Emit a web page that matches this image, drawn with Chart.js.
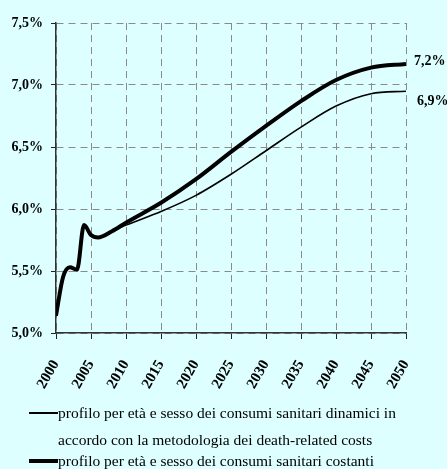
<!DOCTYPE html>
<html>
<head>
<meta charset="utf-8">
<script src="https://cdn.jsdelivr.net/npm/chart.js@4.4.0/dist/chart.umd.min.js"></script>
<style>
  body { margin: 0; background: #ddffff; font-family: "Liberation Serif", "Times New Roman", serif; }
  #wrap { position: relative; width: 447px; height: 469px; overflow: hidden; }
  canvas { position: absolute; left: 0; top: 0; }
  .key { position: absolute; left: 29px; width: 29px; background: #000; }
  .txt { position: absolute; left: 58px; font-size: 15.5px; line-height: 27px; color: #000; white-space: nowrap; }
</style>
</head>
<body>
<div id="wrap">
  <canvas id="chart" width="447" height="400"></canvas>
  <div class="key" style="top:412px;height:2px"></div>
  <div class="txt" style="top:399px">profilo per età e sesso dei consumi sanitari dinamici in<br>accordo con la metodologia dei death-related costs</div>
  <div class="key" style="top:459px;height:4px"></div>
  <div class="txt" style="top:447px">profilo per età e sesso dei consumi sanitari costanti</div>
</div>
<script>
// years
const years = [2000, 2001, 2002, 2003, 2004, 2005, 2006, 2008, 2010, 2015, 2020, 2025, 2030, 2035, 2040, 2045, 2050];
// profilo dinamico (death-related costs) - thin line
const dinamico = [5.14, 5.45, 5.53, 5.51, 5.87, 5.79, 5.77, 5.82, 5.87, 5.98, 6.11, 6.28, 6.47, 6.66, 6.83, 6.93, 6.95];
// profilo costante - thick line
const costante = [5.14, 5.45, 5.53, 5.51, 5.87, 5.79, 5.77, 5.82, 5.89, 6.05, 6.24, 6.46, 6.67, 6.87, 7.04, 7.14, 7.17];
const endLabels = ["6,9%", "7,2%"];
const yTicks = [5.0, 5.5, 6.0, 6.5, 7.0, 7.5];

const serif = "'Liberation Serif', 'Times New Roman', serif";

const endLabelPlugin = {
  id: "endLabels",
  afterDatasetsDraw(chart) {
    const ctx = chart.ctx;
    ctx.save();
    ctx.font = "bold 14px " + serif;
    ctx.fillStyle = "#000";
    ctx.textBaseline = "middle";
    chart.data.datasets.forEach((ds, i) => {
      const pts = chart.getDatasetMeta(i).data;
      const p = pts[pts.length - 1];
      const dx = i === 0 ? 11 : 8;
      const dy = i === 0 ? 10 : -3;
      ctx.fillText(endLabels[i], chart.chartArea.right + dx, p.y + dy);
    });
    ctx.restore();
  }
};

new Chart(document.getElementById("chart"), {
  type: "line",
  data: {
    datasets: [
      {
        label: "dinamico",
        data: years.map((y, i) => ({ x: y, y: dinamico[i] })),
        borderColor: "#000",
        borderWidth: 1.6,
        pointRadius: 0,
        cubicInterpolationMode: "monotone"
      },
      {
        label: "costante",
        data: years.map((y, i) => ({ x: y, y: costante[i] })),
        borderColor: "#000",
        borderWidth: 4,
        pointRadius: 0,
        cubicInterpolationMode: "monotone"
      }
    ]
  },
  options: {
    responsive: false,
    animation: false,
    layout: { padding: { top: 23, right: 41, left: 0, bottom: 0 } },
    plugins: { legend: { display: false }, tooltip: { enabled: false } },
    scales: {
      x: {
        type: "linear",
        min: 2000,
        max: 2050,
        afterBuildTicks: (axis) => {
          axis.ticks = years.filter(y => y % 5 === 0).map(v => ({ value: v }));
        },
        afterFit: (axis) => { axis.height = 67; },
        ticks: {
          color: "#000",
          font: { family: serif, size: 15, weight: "bold" },
          minRotation: 60,
          maxRotation: 60,
          padding: 18,
          callback: v => String(v)
        },
        grid: {
          color: "#8a8a8a",
          lineWidth: 1,
          tickLength: 6,
          tickColor: "#222",
          tickBorderDash: []
        },
        border: { display: true, color: "#333", width: 1.5, dash: [7, 5] }
      },
      y: {
        min: 5.0,
        max: 7.5,
        afterBuildTicks: (axis) => {
          axis.ticks = yTicks.map(v => ({ value: v }));
        },
        afterFit: (axis) => { axis.width = 56; },
        ticks: {
          color: "#000",
          font: { family: serif, size: 14, weight: "bold" },
          padding: 8,
          callback: v => v.toFixed(1).replace(".", ",") + "%"
        },
        grid: {
          color: "#8a8a8a",
          lineWidth: 1,
          tickLength: 5,
          tickColor: "#222",
          tickBorderDash: []
        },
        border: { display: true, color: "#333", width: 1.5, dash: [7, 5] }
      }
    }
  },
  plugins: [endLabelPlugin]
});
</script>
</body>
</html>
